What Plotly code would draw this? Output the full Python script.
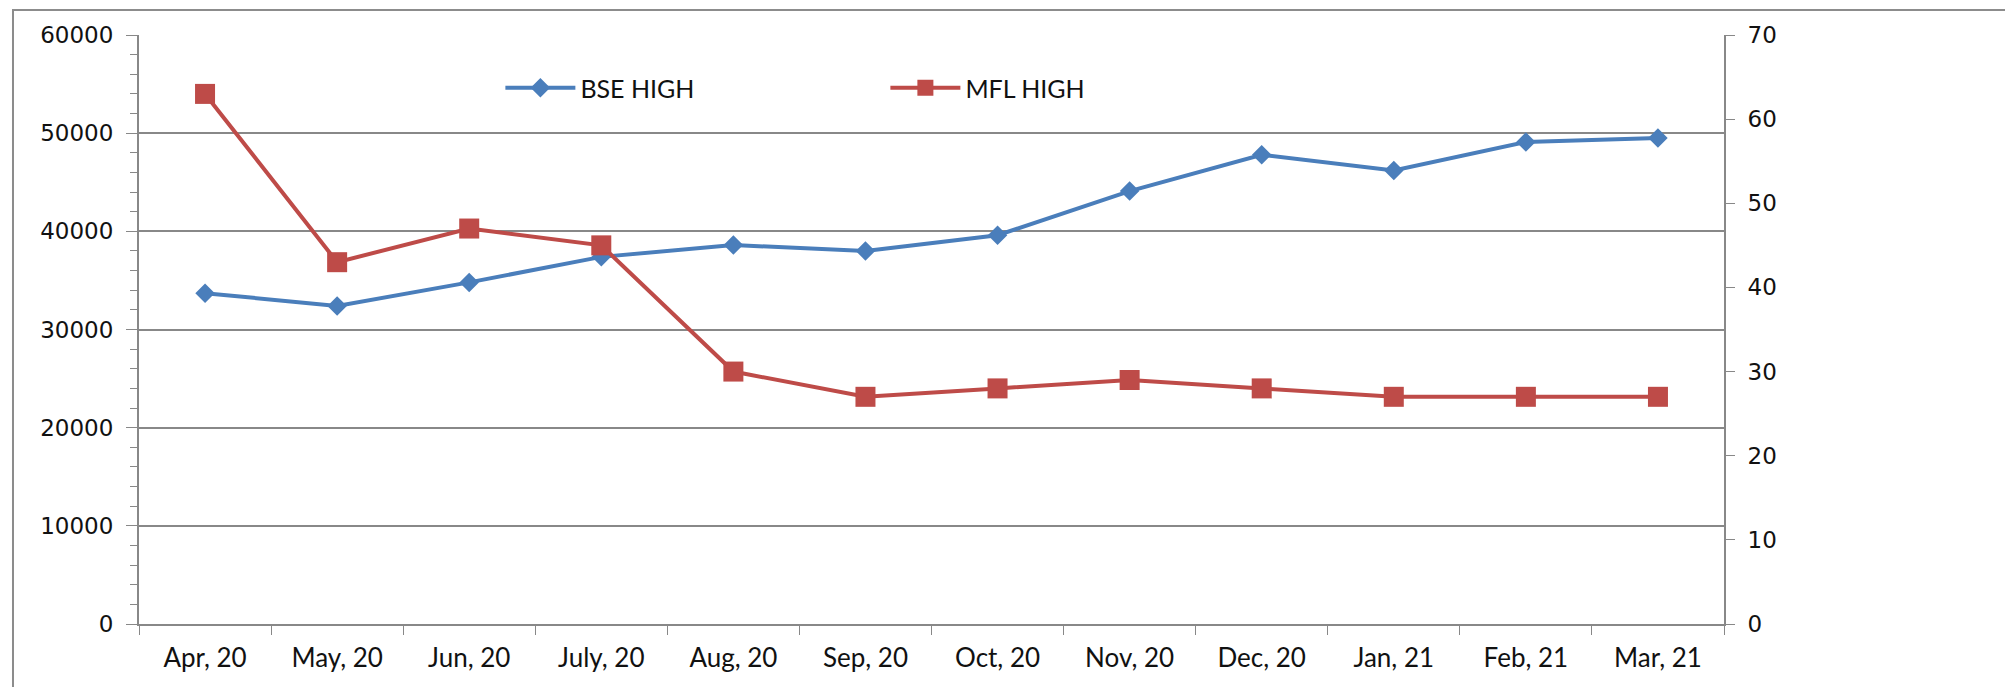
import plotly.graph_objects as go

months = ["Apr, 20", "May, 20", "Jun, 20", "July, 20", "Aug, 20", "Sep, 20",
          "Oct, 20", "Nov, 20", "Dec, 20", "Jan, 21", "Feb, 21", "Mar, 21"]
bse_high = [33700, 32400, 34800, 37400, 38600, 38000,
            39600, 44100, 47800, 46200, 49100, 49500]
mfl_high = [63, 43, 47, 45, 30, 27, 28, 29, 28, 27, 27, 27]

blue = "#4a7ebb"
red = "#be4b48"
grey = "#888888"

fig = go.Figure()
fig.add_trace(go.Scatter(x=months, y=bse_high, name="BSE HIGH", mode="lines+markers",
                         line=dict(color=blue, width=4),
                         marker=dict(symbol="diamond", size=15, color=blue)))
fig.add_trace(go.Scatter(x=months, y=mfl_high, name="MFL HIGH", mode="lines+markers",
                         yaxis="y2",
                         line=dict(color=red, width=4),
                         marker=dict(symbol="square", size=20, color=red)))

# outer chart frame (runs off the right and bottom of the picture)
fig.add_shape(type="rect", xref="paper", yref="paper",
              x0=-0.0795, x1=1.2, y0=-0.2, y1=1.0425,
              line=dict(color="#8c8c8c", width=2), layer="below")

# page body has an 8px margin, so the figure is 8px smaller than the window
fig.update_layout(
    width=2005, height=679,
    margin=dict(l=131, r=289, t=27, b=63),
    paper_bgcolor="white", plot_bgcolor="white",
    font=dict(family="DejaVu Sans", size=23, color="#111111"),
    showlegend=True,
    legend=dict(orientation="h", x=0.228, xanchor="left", y=0.91, yanchor="middle",
                bgcolor="rgba(0,0,0,0)", font=dict(family="Lato", size=25),
                itemwidth=70, entrywidth=300, entrywidthmode="pixels"),
    xaxis=dict(type="category", range=[-0.5, 11.5], showgrid=False,
               showline=True, linecolor=grey, linewidth=2,
               ticks="outside", tickson="boundaries", ticklen=9, tickcolor=grey,
               ticklabelstandoff=10,
               tickfont=dict(family="Lato", size=26, color="#111111")),
    yaxis=dict(range=[0, 60000], dtick=10000, tickformat="d",
               showgrid=True, gridcolor=grey, gridwidth=1.5,
               showline=True, linecolor=grey, linewidth=2, zeroline=False,
               ticks="outside", ticklen=11, tickcolor=grey, ticklabelstandoff=8,
               minor=dict(dtick=2000, ticks="outside", ticklen=7, tickcolor=grey, showgrid=False)),
    yaxis2=dict(range=[0, 70], dtick=10, overlaying="y", side="right", showgrid=False,
                showline=True, linecolor=grey, linewidth=2, zeroline=False,
                ticks="outside", ticklen=9, tickcolor=grey, ticklabelstandoff=8),
)

fig.write_html("out.html")
